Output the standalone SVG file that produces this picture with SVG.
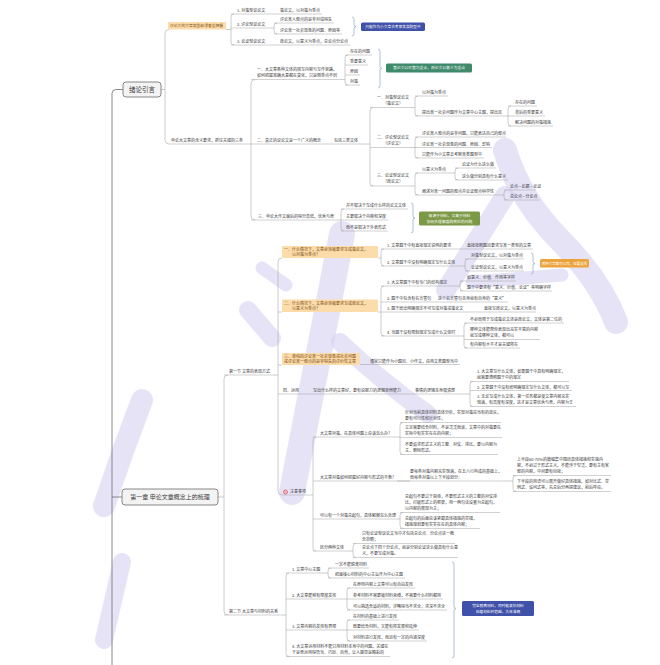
<svg xmlns="http://www.w3.org/2000/svg" width="660" height="665" viewBox="0 0 660 665">
<style>
.t{font-family:"Noto Sans CJK SC","Noto Sans",sans-serif;font-size:4px;fill:#3a3a3a}
.m{text-anchor:middle}
.w{fill:#ffffff}
.ot{fill:#7b4a12}
.u{fill:none;stroke:#a3a3a3;stroke-width:0.5}
.c{fill:none;stroke:#a3a3a3;stroke-width:0.55}
.sp{fill:none;stroke:#7a7a7a;stroke-width:0.9}
.br{fill:none;stroke:#8ea4c8;stroke-width:0.7}
.ob{fill:#fcdcaa}
.root{fill:#f3f3f3;stroke:#6a6a6a;stroke-width:0.8}
.wm{fill:none;stroke:#d6d1f1;stroke-linecap:round;opacity:0.6}
</style>
<rect width="660" height="665" fill="#ffffff"/>
<g id="watermark">
<path class="wm" stroke-width="26" d="M342 234 Q318 360 292 492"/>
<path class="wm" stroke-width="18" d="M248 310 L272 338"/>
<path class="wm" stroke-width="13" d="M262 268 L286 285"/>
<path class="wm" stroke-width="18" d="M340 342 Q382 382 428 414"/>
<path class="wm" stroke-width="22" d="M142 400 Q122 452 104 506"/>
<path class="wm" stroke-width="18" d="M122 562 L104 640"/>
<path class="wm" stroke-width="24" d="M505 150 Q520 200 560 240 Q600 280 616 322"/>
<path class="wm" stroke-width="20" d="M505 196 L446 290"/>
<path class="wm" stroke-width="13" d="M472 282 L562 275"/>
</g>
<g id="connectors">
<path class="sp" d="M123 89.5 H116 Q112 89.5 112 93.5 V665"/>
<path class="sp" d="M112 497 H122"/>
<path class="c" d="M161 89.5 H165"/>
<path class="c" d="M169 29.5 Q165 29.5 165 33.5 V140 Q165 144 169 144"/>
<path class="c" d="M226 29.5 H231"/>
<path class="c" d="M234 14 Q231 14 231 17 V42 Q231 45 234 45"/>
<path class="c" d="M270 28 H274"/>
<path class="c" d="M277 23 Q274 23 274 26 V31 Q274 34 277 34"/>
<path class="c" d="M247 144 H251"/>
<path class="c" d="M255 79.5 Q251 79.5 251 83.5 V216 Q251 220 255 220"/>
<path class="c" d="M341 79.5 H345"/>
<path class="c" d="M348 55 Q345 55 345 58 V82 Q345 85 348 85"/>
<path class="c" d="M323 144 H333"/>
<path class="c" d="M359 144 H370"/>
<path class="c" d="M373 107.5 Q370 107.5 370 110.5 V183 Q370 186 373 186"/>
<path class="c" d="M411 107.5 H415"/>
<path class="c" d="M418 96 Q415 96 415 99 V113 Q415 116 418 116"/>
<path class="c" d="M503 116 H508"/>
<path class="c" d="M511 106 Q508 106 508 109 V123 Q508 126 511 126"/>
<path class="c" d="M411 147.5 H415"/>
<path class="c" d="M418 137 Q415 137 415 140 V155 Q415 158 418 158"/>
<path class="c" d="M411 186 H415"/>
<path class="c" d="M418 173 Q415 173 415 176 V192 Q415 195 418 195"/>
<path class="c" d="M448 173 H455"/>
<path class="c" d="M458 168 Q455 168 455 171 V177 Q455 180 458 180"/>
<path class="c" d="M496 195 H504"/>
<path class="c" d="M507 190 Q504 190 504 193 V197 Q504 200 507 200"/>
<path class="c" d="M337 220 H341"/>
<path class="c" d="M344 209 Q341 209 341 212 V228 Q341 231 344 231"/>
<path class="c" d="M218 497 H224"/>
<path class="c" d="M228 375 Q224 375 224 379 V611 Q224 615 228 615"/>
<path class="c" d="M273 375 H278"/>
<path class="c" d="M282 258 Q278 258 278 262 V491 Q278 495 282 495"/>
<path class="c" d="M278 312 H282"/>
<path class="c" d="M278 365 H282"/>
<path class="c" d="M278 394 H283"/>
<path class="c" d="M378 258 H381"/>
<path class="c" d="M384 249 Q381 249 381 252 V263 Q381 266 384 266"/>
<path class="c" d="M461 266 H465"/>
<path class="c" d="M468 259 Q465 259 465 262 V268 Q465 271 468 271"/>
<path class="c" d="M378 312 H381"/>
<path class="c" d="M384 286 Q381 286 381 289 V333 Q381 336 384 336"/>
<path class="c" d="M451 286 H460"/>
<path class="c" d="M463 281 Q460 281 460 284 V288 Q460 291 463 291"/>
<path class="c" d="M458 336 H464"/>
<path class="c" d="M467 323 Q464 323 464 326 V345 Q464 348 467 348"/>
<path class="c" d="M360 364.5 H370"/>
<path class="c" d="M456 394 H470"/>
<path class="c" d="M473 381.5 Q470 381.5 470 384.5 V403.5 Q470 406.5 473 406.5"/>
<path class="c" d="M307 495 H313"/>
<path class="c" d="M316 437 Q313 437 313 440 V548 Q313 551 316 551"/>
<path class="c" d="M394 437 H400"/>
<path class="c" d="M403 422.5 Q400 422.5 400 425.5 V451.5 Q400 454.5 403 454.5"/>
<path class="c" d="M397 481 H410"/>
<path class="c" d="M503 481 H513"/>
<path class="c" d="M516 475.5 Q513 475.5 513 478.5 V488.5 Q513 491.5 516 491.5"/>
<path class="c" d="M398 519 H400"/>
<path class="c" d="M403 512.5 Q400 512.5 400 515.5 V525.5 Q400 528.5 403 528.5"/>
<path class="c" d="M346 551 H353"/>
<path class="c" d="M356 543.5 Q353 543.5 353 546.5 V554.5 Q353 557.5 356 557.5"/>
<path class="c" d="M282 615 H286"/>
<path class="c" d="M289 573 Q286 573 286 576 V653.5 Q286 656.5 289 656.5"/>
<path class="c" d="M322 573 H328"/>
<path class="c" d="M331 568 Q328 568 328 571 V575 Q328 578 331 578"/>
<path class="c" d="M339 599 H347"/>
<path class="c" d="M350 588 Q347 588 347 591 V607 Q347 610 350 610"/>
<path class="c" d="M339 630 H347"/>
<path class="c" d="M350 620 Q347 620 347 623 V638 Q347 641 350 641"/>
</g>
<g id="braces">
<path class="br" d="M352 17 Q354 17 354 19.5 V24.5 Q354 26.5 356 26.5 Q354 26.5 354 28.5 V33.5 Q354 36 352 36"/>
<path class="br" d="M378 49 Q380 49 380 51.5 V66.5 Q380 68.5 382 68.5 Q380 68.5 380 70.5 V85.5 Q380 88 378 88"/>
<path class="br" d="M411 203 Q413 203 413 205.5 V216 Q413 218 415 218 Q413 218 413 220 V230.5 Q413 233 411 233"/>
<path class="br" d="M531 253 Q533 253 533 255.5 V261.5 Q533 263.5 535 263.5 Q533 263.5 533 265.5 V271.5 Q533 274 531 274"/>
<path class="br" d="M452 562 Q454 562 454 564.5 V606 Q454 608.5 456 608.5 Q454 608.5 454 611 V655.5 Q454 658 452 658"/>
</g>
<g id="n_root1">
<rect class="root" x="123" y="82" width="38" height="15" rx="3"/>
<text class="t m" x="142" y="92" style="font-size:6.5px">绪论引言</text>
</g>
<g id="n_b1">
<rect class="ob" x="168" y="22" width="58" height="7.5" rx="1"/>
<text class="t ot" x="170" y="27.3" style="font-size:3.8px">议论文的文章类型和须着重把握</text>
</g>
<g id="n_b1_i1">
<text class="t" x="237" y="12.4">1. 对策型议论文</text>
<text class="t" x="280" y="12.4">策论文，以对策为重点</text>
<path class="u" d="M231 14 H322"/>
</g>
<g id="n_b1_i2">
<text class="t" x="237" y="26.4">2. 评论型议论文</text>
<path class="u" d="M231 28 H270"/>
<text class="t" x="280" y="21.4">评论某人观点的是非对错得失</text>
<path class="u" d="M274 23 H334"/>
<text class="t" x="280" y="32.4">评论某一社会现象的问题、原因等</text>
<path class="u" d="M274 34 H342"/>
</g>
<g id="n_blue1">
<rect x="361" y="22.5" width="64" height="8.5" rx="1.5" fill="#3f51a8"/>
<text class="t w m" x="393" y="28.1" style="font-size:3.7px">只能作为小文章去考察某类题型中</text>
</g>
<g id="n_b1_i3">
<text class="t" x="237" y="43.4">3. 论证型议论文</text>
<text class="t" x="280" y="43.4">政论文，以意义为重点，总论点分论点</text>
<path class="u" d="M231 45 H350"/>
</g>
<g id="n_b2">
<text class="t" x="171" y="142.4">申论大文章的含义要求，抓住关键的三条</text>
<path class="u" d="M169 144 H247"/>
</g>
<g id="n_j1">
<text class="t" x="257" y="71.4">一、大文章各种文体的撰写内容与写作思路，</text>
<text class="t" x="257" y="77.4">如何把握准确大意都在变化，只是侧重点不同</text>
<path class="u" d="M251 79.5 H341"/>
<text class="t" x="350" y="53.4">存在的问题</text>
<path class="u" d="M345 55 H372"/>
<text class="t" x="350" y="63.4">重要意义</text>
<path class="u" d="M345 65 H368"/>
<text class="t" x="350" y="73.4">原因</text>
<path class="u" d="M345 75 H360"/>
<text class="t" x="350" y="83.4">对策</text>
<path class="u" d="M345 85 H360"/>
</g>
<g id="n_green1">
<rect x="386" y="63.5" width="86" height="9" rx="1.5" fill="#3f8a6c"/>
<text class="t w m" x="429" y="69.4" style="font-size:3.8px">策论文以对策为重点，政论文以意义为重点</text>
</g>
<g id="n_j2">
<text class="t" x="257" y="142.4">二、真正的议论文是一个广义的概念</text>
<path class="u" d="M251 144 H323"/>
<text class="t" x="334" y="142.4">包括三类文体</text>
<path class="u" d="M333 144 H359"/>
</g>
<g id="n_k1">
<text class="t" x="377" y="99.4">一、对策型议论文</text>
<text class="t m" x="393" y="105.4">（策论文）</text>
<path class="u" d="M370 107.5 H411"/>
<text class="t" x="422" y="94.4">以对策为重点</text>
<path class="u" d="M415 96 H448"/>
<text class="t" x="422" y="114.4">提出某一社会问题作为文章中心主题，提出其</text>
<path class="u" d="M415 116 H503"/>
<text class="t" x="515" y="104.4">存在的问题</text>
<path class="u" d="M508 106 H537"/>
<text class="t" x="515" y="114.4">背后的重要意义</text>
<path class="u" d="M508 116 H545"/>
<text class="t" x="515" y="124.4">解决问题的对策措施</text>
<path class="u" d="M508 126 H553"/>
</g>
<g id="n_k2">
<text class="t" x="377" y="139.4">二、评论型议论文</text>
<text class="t m" x="393" y="145.4">（评论文）</text>
<path class="u" d="M370 147.5 H411"/>
<text class="t" x="422" y="135.4">评论某人观点的是非问题，只能表达自己的观点</text>
<path class="u" d="M415 137 H506"/>
<text class="t" x="422" y="145.9">评论某一社会现象的问题、原因、影响</text>
<path class="u" d="M415 147.5 H492"/>
<text class="t" x="422" y="156.4">只能作为小文章去考察某类题型中</text>
<path class="u" d="M415 158 H484"/>
</g>
<g id="n_k3">
<text class="t" x="377" y="177.4">三、论证型议论文</text>
<text class="t m" x="393" y="183.4">（政论文）</text>
<path class="u" d="M370 186 H411"/>
<text class="t" x="422" y="171.4">以意义为重点</text>
<path class="u" d="M415 173 H448"/>
<text class="t" x="462" y="166.4">论证为什么这么做</text>
<path class="u" d="M455 168 H496"/>
<text class="t" x="462" y="178.4">这么做分别具有什么意义</text>
<path class="u" d="M455 180 H508"/>
<text class="t" x="422" y="193.4">阐述对某一问题的观点并论证观点科学性</text>
<path class="u" d="M415 195 H496"/>
<text class="t" x="510" y="188.4">论点—论据—论证</text>
<path class="u" d="M504 190 H536"/>
<text class="t" x="510" y="198.4">总论点—分论点</text>
<path class="u" d="M504 200 H540"/>
</g>
<g id="n_j3">
<text class="t" x="258" y="218.4">三、申论大作文最后的得分高低，优秀与否</text>
<path class="u" d="M251 220 H337"/>
<text class="t" x="346" y="207.4">并不取决于写成什么样的论文文体</text>
<path class="u" d="M341 209 H408"/>
<text class="t" x="346" y="218.4">主要取决于内容和深度</text>
<path class="u" d="M341 220 H388"/>
<text class="t" x="346" y="229.4">而不是取决于外表形式</text>
<path class="u" d="M341 231 H388"/>
</g>
<g id="n_olive1">
<rect x="419" y="211.5" width="61" height="14" rx="1.5" fill="#7c9a45"/>
<text class="t w m" x="449.5" y="217.2" style="font-size:3.8px">来源于材料，又高于材料</text>
<text class="t w m" x="449.5" y="223" style="font-size:3.8px">如何去理解真题背后的问题</text>
</g>
<g id="n_root2">
<rect class="root" x="122" y="489" width="96" height="16" rx="3"/>
<text class="t m" x="170" y="499.2" style="font-size:6px">第一章 申论文章概念上的梳理</text>
</g>
<g id="n_s1">
<text class="t" x="229" y="373.4">第一节 文章的表现方式</text>
<path class="u" d="M224 375 H273"/>
</g>
<g id="n_A">
<rect class="ob" x="282" y="246" width="96" height="12" rx="1"/>
<text class="t ot" x="284" y="250.9">一、什么情况下，文章必须被要求写成策论文，</text>
<text class="t ot" x="292" y="256.4">以对策为重点？</text>
</g>
<g id="n_A1">
<text class="t" x="387" y="247.4">1. 文章题干中有直接规定说明的要求</text>
<text class="t" x="467" y="247.4">直接按照题目要求写某一类型的文章</text>
<path class="u" d="M381 249 H533"/>
</g>
<g id="n_A2">
<text class="t" x="387" y="264.4">2. 文章题干中没有明确规定写什么文体</text>
<path class="u" d="M381 266 H461"/>
<text class="t" x="471" y="257.4">对策型议论文，以对策为重点</text>
<path class="u" d="M465 259 H524"/>
<text class="t" x="471" y="269.4">论证型议论文，以意义为重点</text>
<path class="u" d="M465 271 H524"/>
</g>
<g id="n_orange1">
<rect x="540" y="259" width="49" height="8.5" rx="1.5" fill="#eca33c"/>
<text class="t w m" x="564.5" y="264.6" style="font-size:3.5px">两种文章都可以写，但要连贯</text>
</g>
<g id="n_B">
<rect class="ob" x="282" y="299.5" width="96" height="12.5" rx="1"/>
<text class="t ot" x="284" y="304.5">二、什么情况下，文章必须被要求写成政论文，</text>
<text class="t ot" x="292" y="310.1">以意义为重点？</text>
</g>
<g id="n_B1">
<text class="t" x="387" y="284.4">1. 大文章题干中有专门的结构规定</text>
<path class="u" d="M381 286 H451"/>
<text class="t" x="467" y="279.4">如意义、价值、作用等字样</text>
<path class="u" d="M460 281 H516"/>
<text class="t" x="467" y="289.4">题干中要求有“意义、价值、论证”等明确字样</text>
<path class="u" d="M460 291 H552"/>
</g>
<g id="n_B2">
<text class="t" x="387" y="300.4">2. 题干中包含有名言警句</text>
<text class="t" x="438" y="300.4">这个名言警句本身就有自身的“意义”</text>
<path class="u" d="M381 302 H508"/>
</g>
<g id="n_B3">
<text class="t" x="387" y="310.4">3. 题干给出明确规定不可写成对策或策论文</text>
<text class="t" x="484" y="310.4">直接写政论文，以意义为重点</text>
<path class="u" d="M381 312 H536"/>
</g>
<g id="n_B4">
<text class="t" x="387" y="334.4">4. 当题干没有限制规定写成什么文体时</text>
<path class="u" d="M381 336 H458"/>
<text class="t" x="470" y="321.4">不必局限于写成策论文还是政论文，文体是第二位的</text>
<path class="u" d="M464 323 H564"/>
<text class="t" x="470" y="331.4">哪种文体能帮你表现出充实丰富的内容</text>
<text class="t" x="470" y="337.4">就写成哪种文体，都可以</text>
<path class="u" d="M464 339.5 H540"/>
<text class="t" x="470" y="346.4">有内容有水平才是关键所在</text>
<path class="u" d="M464 348 H520"/>
</g>
<g id="n_C">
<rect class="ob" x="282" y="353" width="78" height="12" rx="1"/>
<text class="t ot" x="284" y="358">三、单纯的评论某一社会现象或社会问题</text>
<text class="t ot" x="284" y="363.4">或评论某一观点的是非得失的评价性文章</text>
<text class="t" x="370" y="362.9">通常只能作为小题目、小作文，应用文类题型当中</text>
<path class="u" d="M370 364.5 H460"/>
</g>
<g id="n_D">
<text class="t" x="283" y="392.4">四、运用</text>
<text class="t" x="313" y="392.4">写出什么样的文章好，要有说服力的逻辑思辨能力</text>
<text class="t" x="415" y="392.4">事情的逻辑本身很清楚</text>
<path class="u" d="M283 394 H456"/>
<text class="t" x="477" y="373.4">1. 大文章写什么文体，如果题干中具有明确规定，</text>
<text class="t" x="477" y="379.4">就需要遵照题干中的规定</text>
<path class="u" d="M470 381.5 H569"/>
<text class="t" x="477" y="388.9">2. 文章题干中没有给明确规定写什么文体，都可以写</text>
<path class="u" d="M470 390.5 H572"/>
<text class="t" x="477" y="398.4">3. 无论写成什么文体，第一任务都是使文章内容充实</text>
<text class="t" x="477" y="404.4">饱满，有高度有深度，这才是文章优秀与否，内容为王</text>
<path class="u" d="M470 406.5 H576"/>
</g>
<g id="n_E">
<circle cx="285.5" cy="492" r="2" fill="none" stroke="#e53935" stroke-width="0.7"/>
<path d="M284.5 492 H286.5" stroke="#e53935" stroke-width="0.6"/>
<text class="t" x="290" y="493.4">注意事项</text>
<path class="u" d="M282 495 H307"/>
</g>
<g id="n_E1">
<text class="t" x="320" y="435.4">大文章对策，在具体问题上应该怎么办？</text>
<path class="u" d="M313 437 H394"/>
<text class="t" x="405" y="414.4">针对当前具体材料具体分析，实现对策应当有的放矢，</text>
<text class="t" x="405" y="420.4">要有可行性和针对性；</text>
<path class="u" d="M400 422.5 H501"/>
<text class="t" x="405" y="429.4">立足需要结合材料，不是泛泛而谈，文章中的对策要在</text>
<text class="t" x="405" y="435.4">实际中有实实在在的内容；</text>
<path class="u" d="M400 437.5 H502"/>
<text class="t" x="405" y="446.4">不要追求形式主义的工整、对仗、排比，要以内容为</text>
<text class="t" x="405" y="452.4">主，删除形式。</text>
<path class="u" d="M400 454.5 H498"/>
</g>
<g id="n_E2">
<text class="t" x="320" y="479.4">大文章对策如何把握好内容与形式的平衡？</text>
<text class="t" x="410" y="473.4">要每条对策内容充实饱满，在五六行构成的基础上，</text>
<text class="t" x="410" y="479.4">而每条对策以上下半段划分：</text>
<path class="u" d="M313 481 H503"/>
<text class="t" x="517" y="461.4">上半段60-70%的篇幅集中围绕具体措施和实施内</text>
<text class="t" x="517" y="467.4">容，不必过于形式主义，不能浮于空泛，要有主有客</text>
<text class="t" x="517" y="473.4">观的内容，中间要有衔接；</text>
<path class="u" d="M513 475.5 H611"/>
<text class="t" x="517" y="483.4">下半段的用语可以展开做好具体措施，如对比式、举</text>
<text class="t" x="517" y="489.4">例式、设问式等，先总后分再提建议，前后呼应。</text>
<path class="u" d="M513 491.5 H611"/>
</g>
<g id="n_E3">
<text class="t" x="320" y="517.4">可以有一个对策总起句，具体解释怎么处理</text>
<path class="u" d="M313 519 H398"/>
<text class="t" x="405" y="498.4">总起句不要过于简单，不要形式主义的工整的对仗排</text>
<text class="t" x="405" y="504.4">比，打破形式上的框架，用一两句话设置为总起句，</text>
<text class="t" x="405" y="510.4">以内容的展现为主；</text>
<path class="u" d="M400 512.5 H500"/>
<text class="t" x="405" y="520.4">总起句的后面应该紧跟具体措施的举措，</text>
<text class="t" x="405" y="526.4">措施规划要有实实在在的具体内容；</text>
<path class="u" d="M400 528.5 H480"/>
</g>
<g id="n_E4">
<text class="t" x="320" y="549.4">区分两种文体</text>
<path class="u" d="M313 551 H346"/>
<text class="t" x="362" y="535.4">只有论证型议论文当中才包括总论点、分论点这一概</text>
<text class="t" x="362" y="541.4">念范畴；</text>
<path class="u" d="M353 543.5 H455"/>
<text class="t" x="362" y="549.4">总论点下四个分论点，就是分别论证这么做具有什么意</text>
<text class="t" x="362" y="555.4">义，不要写成对策。</text>
<path class="u" d="M353 557.5 H458"/>
</g>
<g id="n_s2">
<text class="t" x="229" y="613.4">第二节 大文章与材料的关系</text>
<path class="u" d="M224 615 H282"/>
</g>
<g id="n_F1">
<text class="t" x="292" y="571.4">1. 文章中心主题</text>
<path class="u" d="M286 573 H322"/>
<text class="t" x="335" y="566.4">一定不能脱离材料</text>
<path class="u" d="M328 568 H369"/>
<text class="t" x="335" y="576.4">把最核心材料的中心主旨作为中心主题</text>
<path class="u" d="M328 578 H405"/>
</g>
<g id="n_F2">
<text class="t" x="292" y="597.4">2. 大文章能够有限度发挥</text>
<path class="u" d="M286 599 H339"/>
<text class="t" x="353" y="586.4">在原则内容上文章可以有自由发挥</text>
<path class="u" d="M347 588 H415"/>
<text class="t" x="353" y="597.4">参考材料不需要被材料束缚，不需要什么材料都用</text>
<path class="u" d="M347 599 H443"/>
<text class="t" x="353" y="608.4">可以挑选合适的材料，详略得当不求全，求深不求全</text>
<path class="u" d="M347 610 H447"/>
</g>
<g id="n_F3">
<text class="t" x="292" y="628.4">3. 文章内容的发挥有界限</text>
<path class="u" d="M286 630 H339"/>
<text class="t" x="353" y="618.4">在材料的基础上进行发挥</text>
<path class="u" d="M347 620 H399"/>
<text class="t" x="353" y="628.4">既要结合材料，又能有所发展和延伸</text>
<path class="u" d="M347 630 H419"/>
<text class="t" x="353" y="639.4">对材料进行发挥，而且有一定的内涵深度</text>
<path class="u" d="M347 641 H427"/>
</g>
<g id="n_F4">
<text class="t" x="292" y="648.4">4. 大文章运用材料不能只用材料本身中的问题，关键在</text>
<text class="t" x="292" y="654.4">于是否运用得恰当、巧妙、自然，让人感觉是精彩的</text>
<path class="u" d="M286 656.5 H390"/>
</g>
<g id="n_blue2">
<rect x="462" y="601" width="72" height="15" rx="1.5" fill="#3f51a8"/>
<text class="t w m" x="498" y="607" style="font-size:3.7px">完全脱离材料，同时能紧扣材料</text>
<text class="t w m" x="498" y="612.8" style="font-size:3.7px">贴着材料并超越，大体准确</text>
</g>
</svg>
